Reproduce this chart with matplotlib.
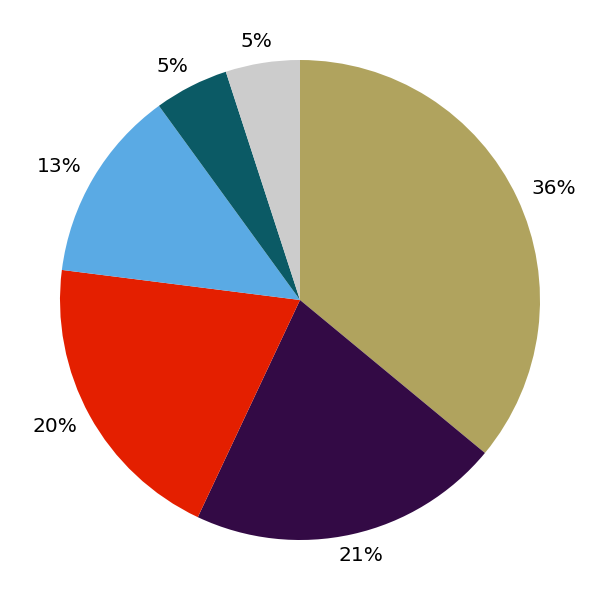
import matplotlib
matplotlib.use("Agg")
import matplotlib.pyplot as plt
import numpy as np

values = [36, 21, 20, 13, 5, 5]
colors = ["#b0a35e", "#330a45", "#e41f00", "#5aaae4", "#0b5a65", "#cccccc"]
labels = [f"{v}%" for v in values]

fig = plt.figure(figsize=(6, 6), dpi=100)
ax = fig.add_axes([0, 0, 1, 1])
wedges, _ = ax.pie(values, colors=colors, startangle=90, counterclock=False, radius=1)
ax.set_xlim(-1.25, 1.25)
ax.set_ylim(-1.25, 1.25)
ax.set_aspect("equal")
ax.axis("off")

rx, ry = 1.167, 1.092
for w, lab in zip(wedges, labels):
    ang = np.deg2rad((w.theta1 + w.theta2) / 2)
    ax.text(rx * np.cos(ang), ry * np.sin(ang), lab, fontsize=14.5,
            ha="center", va="center")

fig.savefig("out.png", dpi=100)
